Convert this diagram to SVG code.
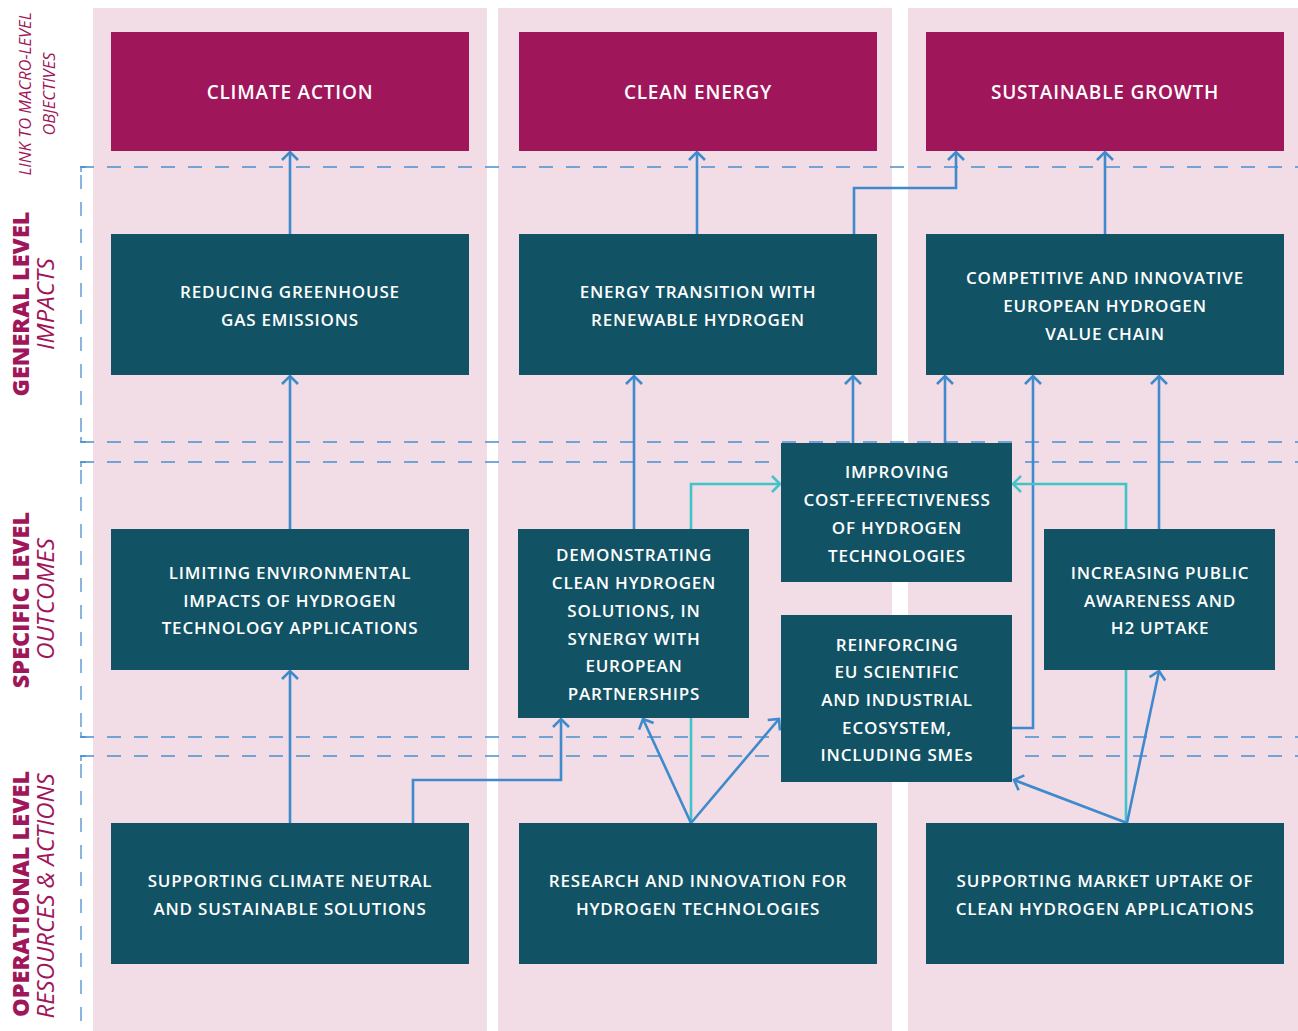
<svg xmlns="http://www.w3.org/2000/svg" width="1298" height="1031" viewBox="0 0 1298 1031">
<defs>
<style>
.col{fill:#f2dce5}
.mag{fill:#a0165a}
.teal{fill:#115264}
.t{font-family:"Open Sans","Noto Sans",sans-serif;font-size:17px;font-weight:600;fill:#ffffff;text-anchor:middle;dominant-baseline:central;letter-spacing:0.8px}
.th{font-size:19px}
.dash{stroke:#4a8fd0;stroke-width:1.3;stroke-dasharray:14 13;fill:none}
.tick{stroke:#4a8fd0;stroke-width:1.3;fill:none}
.b{stroke:#3e8acc;stroke-width:2.6;fill:none}
.c{stroke:#40c4c8;stroke-width:2.6;fill:none}
.lb{font-family:"Open Sans","Noto Sans",sans-serif;fill:#a0165a;text-anchor:middle}
.lbb{font-size:23.5px;font-weight:800}
.lbi{font-size:24px;font-style:italic;font-weight:400}
.lbs{font-size:16.5px;font-style:italic;font-weight:400}
</style>
<marker id="ab" viewBox="0 0 20 20" refX="10" refY="10" markerWidth="20" markerHeight="20" markerUnits="userSpaceOnUse" orient="auto"><path d="M2,2 L10,10 L2,18" fill="none" stroke="#3e8acc" stroke-width="2.6"/></marker>
<marker id="ac" viewBox="0 0 20 20" refX="10" refY="10" markerWidth="20" markerHeight="20" markerUnits="userSpaceOnUse" orient="auto"><path d="M2,2 L10,10 L2,18" fill="none" stroke="#40c4c8" stroke-width="2.6"/></marker>
</defs>
<rect width="1298" height="1031" fill="#ffffff"/>
<g id="columns">
<rect class="col" x="93" y="8" width="394" height="1023"/>
<rect class="col" x="498" y="8" width="394" height="1023"/>
<rect class="col" x="908" y="8" width="390" height="1023"/>
</g>
<g id="guides">
<line class="dash" x1="80" y1="167" x2="1298" y2="167"/>
<line class="dash" x1="80" y1="442" x2="1298" y2="442"/>
<line class="dash" x1="80" y1="462" x2="1298" y2="462"/>
<line class="dash" x1="80" y1="737" x2="1298" y2="737"/>
<line class="dash" x1="80" y1="756" x2="1298" y2="756"/>
<line class="dash" x1="81" y1="175" x2="81" y2="436"/>
<line class="dash" x1="81" y1="470" x2="81" y2="731"/>
<line class="dash" x1="81" y1="764" x2="81" y2="1031"/>
<path class="tick" d="M86,167 H81 V172 M81,437 V442 H86 M86,462 H81 V467 M81,732 V737 H86 M86,756 H81 V761"/>
</g>
<g id="labels">
<text class="lb lbs" transform="translate(31,94) rotate(-90)">LINK TO MACRO-LEVEL</text>
<text class="lb lbs" transform="translate(55,94) rotate(-90)">OBJECTIVES</text>
<text class="lb lbb" transform="translate(29,304) rotate(-90)">GENERAL LEVEL</text>
<text class="lb lbi" transform="translate(54,304) rotate(-90)">IMPACTS</text>
<text class="lb lbb" transform="translate(29,600) rotate(-90)">SPECIFIC LEVEL</text>
<text class="lb lbi" transform="translate(54,599) rotate(-90)">OUTCOMES</text>
<text class="lb lbb" transform="translate(29,894) rotate(-90)">OPERATIONAL LEVEL</text>
<text class="lb lbi" transform="translate(54,896) rotate(-90)">RESOURCES &amp; ACTIONS</text>
</g>
<g id="connectors">
<line class="b" x1="290" y1="234" x2="290" y2="152" marker-end="url(#ab)"/>
<line class="b" x1="697" y1="234" x2="697" y2="152" marker-end="url(#ab)"/>
<line class="b" x1="1105" y1="234" x2="1105" y2="152" marker-end="url(#ab)"/>
<path class="b" d="M854,234 V188 H956 V152" marker-end="url(#ab)"/>
<line class="b" x1="290" y1="529" x2="290" y2="376" marker-end="url(#ab)"/>
<line class="b" x1="634" y1="529" x2="634" y2="376" marker-end="url(#ab)"/>
<line class="b" x1="853" y1="443" x2="853" y2="376" marker-end="url(#ab)"/>
<line class="b" x1="945" y1="443" x2="945" y2="376" marker-end="url(#ab)"/>
<path class="b" d="M1012,728 H1033 V376" marker-end="url(#ab)"/>
<line class="b" x1="1159" y1="529" x2="1159" y2="376" marker-end="url(#ab)"/>
<line class="b" x1="290" y1="823" x2="290" y2="671" marker-end="url(#ab)"/>
<path class="b" d="M413,823 V780 H561 V719" marker-end="url(#ab)"/>
<path class="c" d="M691,529 V484 H780" marker-end="url(#ac)"/>
<path class="c" d="M1126,529 V484 H1013" marker-end="url(#ac)"/>
<line class="c" x1="691" y1="823" x2="691" y2="718"/>
<line class="b" x1="691" y1="823" x2="643" y2="719" marker-end="url(#ab)"/>
<line class="b" x1="691" y1="823" x2="779" y2="719" marker-end="url(#ab)"/>
<line class="c" x1="1126" y1="823" x2="1126" y2="670"/>
<line class="b" x1="1127" y1="823" x2="1014" y2="780" marker-end="url(#ab)"/>
<line class="b" x1="1127" y1="823" x2="1159" y2="671" marker-end="url(#ab)"/>
</g>
<g id="n-climate"><rect class="mag" x="111" y="32" width="358" height="119"/><text class="t th" x="290" y="92">CLIMATE ACTION</text></g>
<g id="n-clean"><rect class="mag" x="519" y="32" width="358" height="119"/><text class="t th" x="698" y="92">CLEAN ENERGY</text></g>
<g id="n-growth"><rect class="mag" x="926" y="32" width="358" height="119"/><text class="t th" x="1105" y="92">SUSTAINABLE GROWTH</text></g>
<g id="n-reducing"><rect class="teal" x="111" y="234" width="358" height="141"/><text class="t" x="290" y="291">REDUCING GREENHOUSE</text><text class="t" x="290" y="319">GAS EMISSIONS</text></g>
<g id="n-transition"><rect class="teal" x="519" y="234" width="358" height="141"/><text class="t" x="698" y="291">ENERGY TRANSITION WITH</text><text class="t" x="698" y="319">RENEWABLE HYDROGEN</text></g>
<g id="n-competitive"><rect class="teal" x="926" y="234" width="358" height="141"/><text class="t" x="1105" y="277">COMPETITIVE AND INNOVATIVE</text><text class="t" x="1105" y="305">EUROPEAN HYDROGEN</text><text class="t" x="1105" y="333">VALUE CHAIN</text></g>
<g id="n-limiting"><rect class="teal" x="111" y="529" width="358" height="141"/><text class="t" x="290" y="572">LIMITING ENVIRONMENTAL</text><text class="t" x="290" y="600">IMPACTS OF HYDROGEN</text><text class="t" x="290" y="627">TECHNOLOGY APPLICATIONS</text></g>
<g id="n-demonstrating"><rect class="teal" x="518" y="529" width="231" height="189"/><text class="t" x="634" y="554">DEMONSTRATING</text><text class="t" x="634" y="582">CLEAN HYDROGEN</text><text class="t" x="634" y="610">SOLUTIONS, IN</text><text class="t" x="634" y="638">SYNERGY WITH</text><text class="t" x="634" y="665">EUROPEAN</text><text class="t" x="634" y="693">PARTNERSHIPS</text></g>
<g id="n-improving"><rect class="teal" x="781" y="443" width="231" height="139"/><text class="t" x="897" y="471">IMPROVING</text><text class="t" x="897" y="499">COST-EFFECTIVENESS</text><text class="t" x="897" y="527">OF HYDROGEN</text><text class="t" x="897" y="555">TECHNOLOGIES</text></g>
<g id="n-reinforcing"><rect class="teal" x="781" y="615" width="231" height="167"/><text class="t" x="897" y="644">REINFORCING</text><text class="t" x="897" y="671">EU SCIENTIFIC</text><text class="t" x="897" y="699">AND INDUSTRIAL</text><text class="t" x="897" y="727">ECOSYSTEM,</text><text class="t" x="897" y="754">INCLUDING SMEs</text></g>
<g id="n-increasing"><rect class="teal" x="1044" y="529" width="231" height="141"/><text class="t" x="1160" y="572">INCREASING PUBLIC</text><text class="t" x="1160" y="600">AWARENESS AND</text><text class="t" x="1160" y="627">H2 UPTAKE</text></g>
<g id="n-supporting"><rect class="teal" x="111" y="823" width="358" height="141"/><text class="t" x="290" y="880">SUPPORTING CLIMATE NEUTRAL</text><text class="t" x="290" y="908">AND SUSTAINABLE SOLUTIONS</text></g>
<g id="n-research"><rect class="teal" x="519" y="823" width="358" height="141"/><text class="t" x="698" y="880">RESEARCH AND INNOVATION FOR</text><text class="t" x="698" y="908">HYDROGEN TECHNOLOGIES</text></g>
<g id="n-market"><rect class="teal" x="926" y="823" width="358" height="141"/><text class="t" x="1105" y="880">SUPPORTING MARKET UPTAKE OF</text><text class="t" x="1105" y="908">CLEAN HYDROGEN APPLICATIONS</text></g>
</svg>
